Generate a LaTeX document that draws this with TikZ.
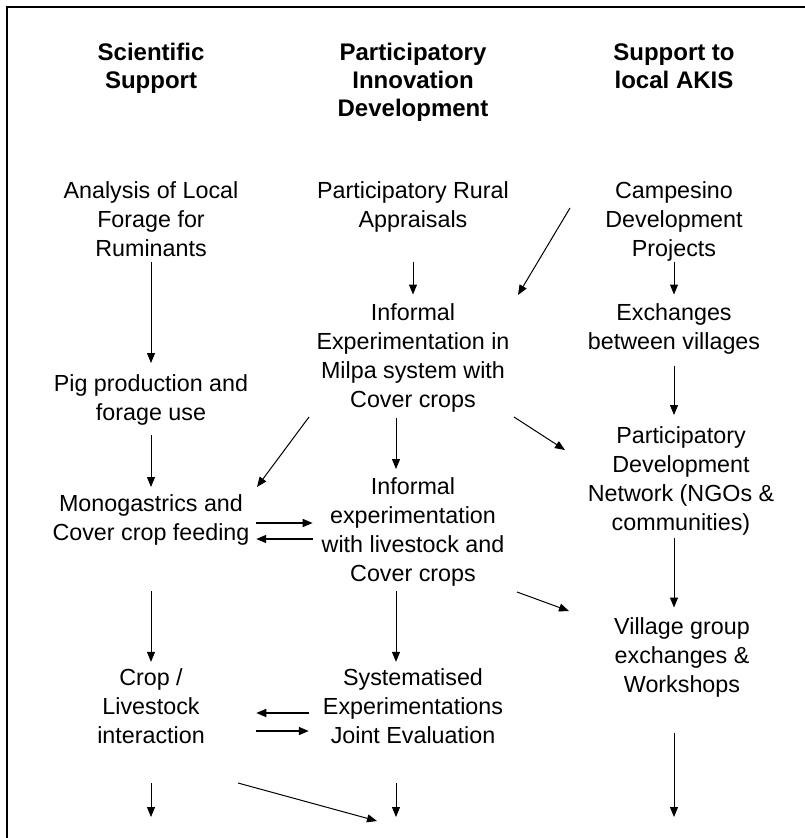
\documentclass[tikz,border=0pt]{standalone}
\usepackage{fontspec}
\setmainfont{Liberation Sans}
\usepackage{tikz}
\usetikzlibrary{arrows.meta}

\begin{document}
\begin{tikzpicture}[x=1pt, y=-1pt,
        heading/.style={align=center, inner sep=0pt, font=\bfseries\fontsize{24}{28}\selectfont},
        stage/.style={align=center, inner sep=0pt, font=\fontsize{23.3}{29}\selectfont},
        arr/.style={-{Triangle[length=10pt,width=8pt]}, line width=1pt},
        twoway/.style={-{Triangle[length=10pt,width=8pt]}, line width=1.5pt}]
        \useasboundingbox (0,0) rectangle (805,838);
        \draw[line width=2pt] (7,838) -- (7,7) -- (805,7);

        \node[heading] (sci) at (151,68.5) {Scientific\\Support};
        \node[heading] (pid) at (413,82.5) {Participatory\\Innovation\\Development};
        \node[heading] (akis) at (674,66) {Support to\\local AKIS};

        \node[stage] (ana) at (151,219) {Analysis of Local\\Forage for\\Ruminants};
        \node[stage] (pra) at (413,207) {Participatory Rural\\Appraisals};
        \node[stage] (camp) at (674,221.5) {Campesino\\Development\\Projects};

        \node[stage] (pig) at (151,400) {Pig production and\\forage use};
        \node[stage] (milpa) at (413,357.5) {Informal\\Experimentation in\\Milpa system with\\Cover crops};
        \node[stage] (exch) at (674,328.5) {Exchanges\\between villages};

        \node[stage] (mono) at (151,520) {Monogastrics and\\Cover crop feeding};
        \node[stage] (infl) at (413,532) {Informal\\experimentation\\with livestock and\\Cover crops};
        \node[stage] (pdn) at (681,481) {Participatory\\Development\\Network (NGOs \&\\communities)};

        \node[stage] (vill) at (682,657) {Village group\\exchanges \&\\Workshops};
        \node[stage] (crop) at (151,706) {Crop /\\Livestock\\interaction};
        \node[stage] (syst) at (413,706) {Systematised\\Experimentations\\Joint Evaluation};

        \coordinate (endL) at (151,817);
        \coordinate (endM) at (396,817);
        \coordinate (endR) at (674,817);

        % left column
        \draw[arr, shorten <=5.6pt, shorten >=11.4pt] (ana.south) -- (pig.north);
        \draw[arr, shorten <=9.7pt, shorten >=7.4pt] (pig.south) -- (mono.north);
        \draw[arr, shorten <=45.7pt, shorten >=6.4pt] (mono.south) -- (crop.north);
        \draw[arr, shorten <=39.6pt] (crop.south) -- (endL);

        % middle column
        \draw[arr, shorten <=29.7pt, shorten >=8.4pt] (pra.south) -- (milpa.north);
        \draw[arr, shorten <=5.7pt, shorten >=8.4pt] ([xshift=-17pt]milpa.south) -- ([xshift=-17pt]infl.north);
        \draw[arr, shorten <=4.7pt, shorten >=6.4pt] ([xshift=-17pt]infl.south) -- ([xshift=-17pt]syst.north);
        \draw[arr, shorten <=39.6pt] ([xshift=-17pt]syst.south) -- (endM);

        % right column
        \draw[arr, shorten <=0.7pt, shorten >=8.4pt] (camp.south) -- (exch.north);
        \draw[arr, shorten <=11.7pt, shorten >=11.4pt] (exch.south) -- ([xshift=-7pt]pdn.north);
        \draw[arr, shorten <=2.7pt, shorten >=9.4pt] ([xshift=-7pt]pdn.south) -- ([xshift=-8pt]vill.north);
        \draw[arr, shorten <=35.7pt] ([xshift=-8pt]vill.south) -- (endR);

        \draw[twoway, shorten <=6.6pt, shorten >=8.8pt] ([yshift=-3pt]mono.east) -- ([yshift=9pt]infl.west);
        \draw[twoway, shorten <=8.8pt, shorten >=6.6pt] ([yshift=-7pt]infl.west) -- ([yshift=-19pt]mono.east);
        \draw[twoway, shorten <=14pt, shorten >=51.3pt] ([yshift=-7pt]syst.west) -- ([yshift=-7pt]crop.east);
        \draw[twoway, shorten <=51.3pt, shorten >=14pt] ([yshift=-25pt]crop.east) -- ([yshift=-25pt]syst.west);

        \coordinate (campOut) at (570,208);
        \coordinate (milpaIn) at (518,295);
        \coordinate (milpaOutL) at (309,417);
        \coordinate (monoIn) at (257,487);
        \coordinate (milpaOutR) at (514,417);
        \coordinate (pdnIn) at (565,450);
        \coordinate (inflOut) at (517,592);
        \coordinate (villIn) at (569,611);
        \coordinate (cropOut) at (238,783);
        \coordinate (systIn) at (377,821);

        \draw[arr] (campOut) -- (milpaIn);
        \draw[arr] (milpaOutL) -- (monoIn);
        \draw[arr] (milpaOutR) -- (pdnIn);
        \draw[arr] (inflOut) -- (villIn);
        \draw[arr] (cropOut) -- (systIn);
    \end{tikzpicture}
\end{document}
